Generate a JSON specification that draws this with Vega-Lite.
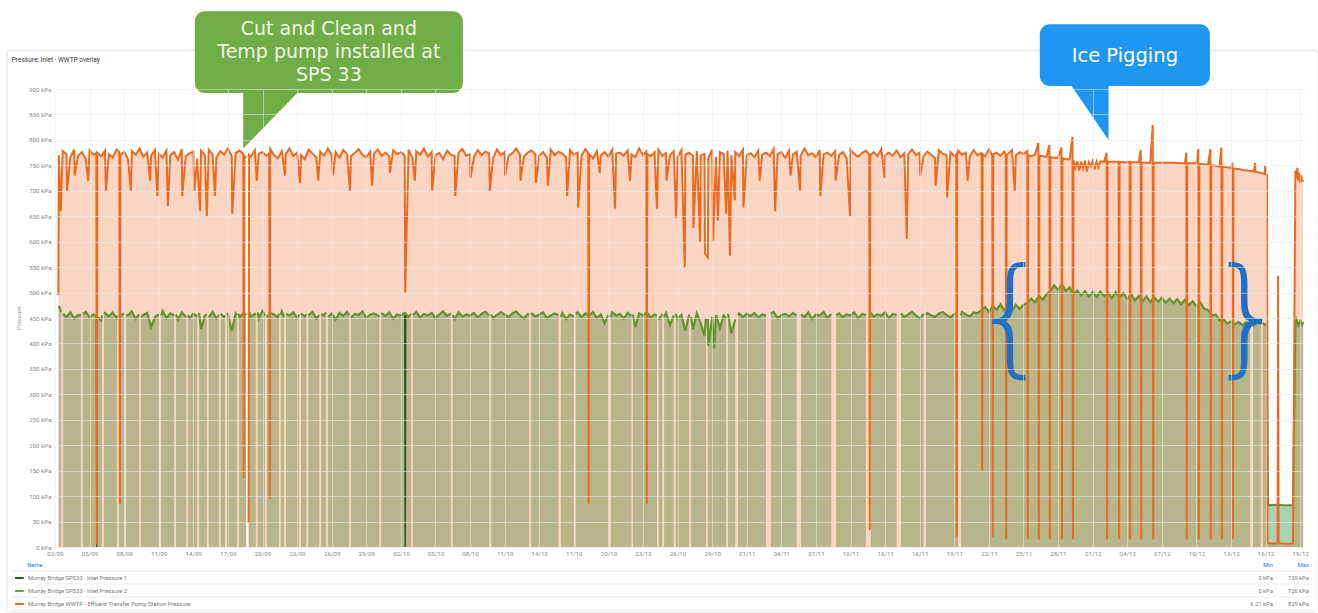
{
"$schema":"https://vega.github.io/schema/vega-lite/v6.json",
"width":1250,"height":458,
"autosize":{"type":"none"},
"padding":{"left":55,"top":89,"right":13,"bottom":66},
"background":"#ffffff",
"config":{"view":{"stroke":null},"font":"Roboto"},
"data":{"format":{"parse":{"t":"date:'%y%m%d%H'"}},"values":[
{"s":"o","t":"23090207","v":495},{"s":"o","t":"23090208","v":770},{"s":"o","t":"23090212","v":660},{"s":"o","t":"23090216","v":778},
{"s":"o","t":"23090300","v":772},{"s":"o","t":"23090301","v":700},{"s":"o","t":"23090308","v":766},{"s":"o","t":"23090316","v":781},{"s":"o","t":"23090317","v":730},
{"s":"o","t":"23090400","v":769},{"s":"o","t":"23090408","v":776},{"s":"o","t":"23090416","v":763},{"s":"o","t":"23090421","v":720},
{"s":"o","t":"23090500","v":780},{"s":"o","t":"23090508","v":771},{"s":"o","t":"23090514","v":774},{"s":"o","t":"23090515","v":5},{"s":"o","t":"23090516","v":775},
{"s":"o","t":"23090600","v":768},{"s":"o","t":"23090608","v":779},{"s":"o","t":"23090610","v":700},{"s":"o","t":"23090616","v":772},
{"s":"o","t":"23090700","v":765},{"s":"o","t":"23090708","v":781},{"s":"o","t":"23090714","v":776},{"s":"o","t":"23090715","v":85},{"s":"o","t":"23090716","v":770},
{"s":"o","t":"23090800","v":776},{"s":"o","t":"23090808","v":762},{"s":"o","t":"23090814","v":700},{"s":"o","t":"23090816","v":778},
{"s":"o","t":"23090900","v":771},{"s":"o","t":"23090908","v":783},{"s":"o","t":"23090916","v":767},
{"s":"o","t":"23091000","v":775},{"s":"o","t":"23091006","v":720},{"s":"o","t":"23091008","v":769},{"s":"o","t":"23091016","v":780},{"s":"o","t":"23091021","v":690},
{"s":"o","t":"23091100","v":773},{"s":"o","t":"23091108","v":765},{"s":"o","t":"23091116","v":779},{"s":"o","t":"23091119","v":670},
{"s":"o","t":"23091200","v":770},{"s":"o","t":"23091208","v":776},{"s":"o","t":"23091216","v":761},
{"s":"o","t":"23091300","v":782},{"s":"o","t":"23091301","v":690},{"s":"o","t":"23091308","v":768},{"s":"o","t":"23091316","v":774},
{"s":"o","t":"23091400","v":777},{"s":"o","t":"23091402","v":700},{"s":"o","t":"23091408","v":763},{"s":"o","t":"23091414","v":660},{"s":"o","t":"23091416","v":779},
{"s":"o","t":"23091500","v":770},{"s":"o","t":"23091504","v":650},{"s":"o","t":"23091508","v":781},{"s":"o","t":"23091516","v":772},{"s":"o","t":"23091521","v":690},
{"s":"o","t":"23091600","v":766},{"s":"o","t":"23091608","v":778},{"s":"o","t":"23091616","v":771},
{"s":"o","t":"23091700","v":783},{"s":"o","t":"23091708","v":768},{"s":"o","t":"23091709","v":655},{"s":"o","t":"23091716","v":774},
{"s":"o","t":"23091800","v":779},{"s":"o","t":"23091808","v":772},{"s":"o","t":"23091809","v":135},{"s":"o","t":"23091810","v":768},{"s":"o","t":"23091814","v":765},{"s":"o","t":"23091815","v":null},{"s":"o","t":"23091819","v":47},{"s":"o","t":"23091820","v":771},
{"s":"o","t":"23091900","v":767},{"s":"o","t":"23091908","v":780},{"s":"o","t":"23091912","v":720},{"s":"o","t":"23091916","v":773},
{"s":"o","t":"23092000","v":776},{"s":"o","t":"23092008","v":769},{"s":"o","t":"23092014","v":774},{"s":"o","t":"23092015","v":95},{"s":"o","t":"23092016","v":782},
{"s":"o","t":"23092100","v":770},{"s":"o","t":"23092108","v":764},{"s":"o","t":"23092116","v":778},{"s":"o","t":"23092123","v":730},
{"s":"o","t":"23092200","v":772},{"s":"o","t":"23092208","v":783},{"s":"o","t":"23092216","v":768},
{"s":"o","t":"23092300","v":775},{"s":"o","t":"23092306","v":715},{"s":"o","t":"23092308","v":770},{"s":"o","t":"23092316","v":762},
{"s":"o","t":"23092400","v":781},{"s":"o","t":"23092408","v":773},{"s":"o","t":"23092416","v":766},{"s":"o","t":"23092420","v":720},
{"s":"o","t":"23092500","v":777},{"s":"o","t":"23092508","v":769},{"s":"o","t":"23092516","v":783},
{"s":"o","t":"23092600","v":771},{"s":"o","t":"23092603","v":730},{"s":"o","t":"23092608","v":776},{"s":"o","t":"23092616","v":765},
{"s":"o","t":"23092700","v":780},{"s":"o","t":"23092708","v":772},{"s":"o","t":"23092714","v":700},{"s":"o","t":"23092716","v":768},
{"s":"o","t":"23092800","v":774},{"s":"o","t":"23092808","v":782},{"s":"o","t":"23092816","v":770},
{"s":"o","t":"23092900","v":766},{"s":"o","t":"23092908","v":777},{"s":"o","t":"23092912","v":710},{"s":"o","t":"23092916","v":773},
{"s":"o","t":"23093000","v":781},{"s":"o","t":"23093008","v":769},{"s":"o","t":"23093016","v":775},
{"s":"o","t":"23100100","v":768},{"s":"o","t":"23100101","v":735},{"s":"o","t":"23100108","v":780},{"s":"o","t":"23100116","v":772},
{"s":"o","t":"23100200","v":776},{"s":"o","t":"23100208","v":770},{"s":"o","t":"23100209","v":500},{"s":"o","t":"23100216","v":781},
{"s":"o","t":"23100300","v":765},{"s":"o","t":"23100305","v":720},{"s":"o","t":"23100308","v":778},{"s":"o","t":"23100316","v":771},
{"s":"o","t":"23100400","v":783},{"s":"o","t":"23100408","v":767},{"s":"o","t":"23100416","v":776},{"s":"o","t":"23100417","v":700},
{"s":"o","t":"23100500","v":770},{"s":"o","t":"23100508","v":774},{"s":"o","t":"23100516","v":762},
{"s":"o","t":"23100600","v":779},{"s":"o","t":"23100608","v":771},{"s":"o","t":"23100616","v":768},{"s":"o","t":"23100617","v":690},
{"s":"o","t":"23100700","v":775},{"s":"o","t":"23100708","v":782},{"s":"o","t":"23100716","v":769},
{"s":"o","t":"23100800","v":772},{"s":"o","t":"23100801","v":725},{"s":"o","t":"23100808","v":766},{"s":"o","t":"23100816","v":780},
{"s":"o","t":"23100900","v":770},{"s":"o","t":"23100908","v":777},{"s":"o","t":"23100916","v":773},{"s":"o","t":"23100917","v":700},
{"s":"o","t":"23101000","v":764},{"s":"o","t":"23101008","v":781},{"s":"o","t":"23101016","v":770},
{"s":"o","t":"23101100","v":776},{"s":"o","t":"23101101","v":730},{"s":"o","t":"23101108","v":768},{"s":"o","t":"23101116","v":774},
{"s":"o","t":"23101200","v":783},{"s":"o","t":"23101208","v":771},{"s":"o","t":"23101209","v":720},{"s":"o","t":"23101216","v":767},
{"s":"o","t":"23101300","v":775},{"s":"o","t":"23101308","v":779},{"s":"o","t":"23101316","v":772},{"s":"o","t":"23101317","v":715},
{"s":"o","t":"23101400","v":769},{"s":"o","t":"23101408","v":776},{"s":"o","t":"23101416","v":765},{"s":"o","t":"23101418","v":710},
{"s":"o","t":"23101500","v":781},{"s":"o","t":"23101508","v":770},{"s":"o","t":"23101516","v":777},
{"s":"o","t":"23101600","v":773},{"s":"o","t":"23101608","v":766},{"s":"o","t":"23101610","v":690},{"s":"o","t":"23101616","v":780},
{"s":"o","t":"23101700","v":771},{"s":"o","t":"23101708","v":775},{"s":"o","t":"23101709","v":667},{"s":"o","t":"23101716","v":769},
{"s":"o","t":"23101800","v":782},{"s":"o","t":"23101806","v":774},{"s":"o","t":"23101807","v":85},{"s":"o","t":"23101808","v":772},{"s":"o","t":"23101816","v":764},
{"s":"o","t":"23101900","v":778},{"s":"o","t":"23101906","v":735},{"s":"o","t":"23101908","v":770},{"s":"o","t":"23101916","v":776},
{"s":"o","t":"23102000","v":767},{"s":"o","t":"23102008","v":781},{"s":"o","t":"23102014","v":665},{"s":"o","t":"23102016","v":773},
{"s":"o","t":"23102100","v":775},{"s":"o","t":"23102108","v":769},{"s":"o","t":"23102116","v":779},{"s":"o","t":"23102121","v":720},
{"s":"o","t":"23102200","v":772},{"s":"o","t":"23102208","v":766},{"s":"o","t":"23102216","v":783},
{"s":"o","t":"23102300","v":770},{"s":"o","t":"23102307","v":777},{"s":"o","t":"23102308","v":85},{"s":"o","t":"23102309","v":772},{"s":"o","t":"23102316","v":768},
{"s":"o","t":"23102400","v":776},{"s":"o","t":"23102405","v":665},{"s":"o","t":"23102408","v":781},{"s":"o","t":"23102416","v":769},
{"s":"o","t":"23102500","v":774},{"s":"o","t":"23102501","v":720},{"s":"o","t":"23102508","v":770},{"s":"o","t":"23102516","v":778},{"s":"o","t":"23102521","v":647},
{"s":"o","t":"23102600","v":766},{"s":"o","t":"23102608","v":780},{"s":"o","t":"23102615","v":549},{"s":"o","t":"23102616","v":771},
{"s":"o","t":"23102700","v":775},{"s":"o","t":"23102708","v":769},{"s":"o","t":"23102709","v":627},{"s":"o","t":"23102716","v":778},{"s":"o","t":"23102723","v":600},
{"s":"o","t":"23102800","v":770},{"s":"o","t":"23102808","v":772},{"s":"o","t":"23102809","v":577},{"s":"o","t":"23102815","v":569},{"s":"o","t":"23102816","v":764},
{"s":"o","t":"23102900","v":781},{"s":"o","t":"23102902","v":602},{"s":"o","t":"23102908","v":767},{"s":"o","t":"23102912","v":641},{"s":"o","t":"23102916","v":776},
{"s":"o","t":"23103000","v":772},{"s":"o","t":"23103005","v":655},{"s":"o","t":"23103008","v":779},{"s":"o","t":"23103013","v":573},{"s":"o","t":"23103016","v":770},{"s":"o","t":"23103023","v":681},
{"s":"o","t":"23103100","v":776},{"s":"o","t":"23103108","v":768},{"s":"o","t":"23103116","v":781},{"s":"o","t":"23103117","v":667},
{"s":"o","t":"23110100","v":770},{"s":"o","t":"23110108","v":774},{"s":"o","t":"23110116","v":766},
{"s":"o","t":"23110200","v":779},{"s":"o","t":"23110203","v":720},{"s":"o","t":"23110208","v":771},{"s":"o","t":"23110216","v":775},
{"s":"o","t":"23110300","v":768},{"s":"o","t":"23110308","v":782},{"s":"o","t":"23110311","v":660},{"s":"o","t":"23110316","v":772},
{"s":"o","t":"23110400","v":776},{"s":"o","t":"23110408","v":765},{"s":"o","t":"23110416","v":779},{"s":"o","t":"23110419","v":730},
{"s":"o","t":"23110500","v":771},{"s":"o","t":"23110508","v":777},{"s":"o","t":"23110515","v":700},{"s":"o","t":"23110516","v":769},
{"s":"o","t":"23110600","v":783},{"s":"o","t":"23110608","v":770},{"s":"o","t":"23110616","v":774},
{"s":"o","t":"23110700","v":766},{"s":"o","t":"23110708","v":780},{"s":"o","t":"23110709","v":690},{"s":"o","t":"23110716","v":772},
{"s":"o","t":"23110800","v":775},{"s":"o","t":"23110808","v":769},{"s":"o","t":"23110816","v":778},{"s":"o","t":"23110817","v":720},
{"s":"o","t":"23110900","v":770},{"s":"o","t":"23110908","v":776},{"s":"o","t":"23110916","v":764},{"s":"o","t":"23110923","v":650},
{"s":"o","t":"23111000","v":781},{"s":"o","t":"23111008","v":772},{"s":"o","t":"23111016","v":767},
{"s":"o","t":"23111100","v":774},{"s":"o","t":"23111108","v":779},{"s":"o","t":"23111115","v":771},{"s":"o","t":"23111116","v":33},{"s":"o","t":"23111117","v":770},
{"s":"o","t":"23111200","v":776},{"s":"o","t":"23111208","v":768},{"s":"o","t":"23111216","v":782},{"s":"o","t":"23111223","v":725},
{"s":"o","t":"23111300","v":770},{"s":"o","t":"23111308","v":775},{"s":"o","t":"23111316","v":769},
{"s":"o","t":"23111400","v":779},{"s":"o","t":"23111408","v":766},{"s":"o","t":"23111416","v":774},{"s":"o","t":"23111421","v":605},
{"s":"o","t":"23111500","v":772},{"s":"o","t":"23111508","v":781},{"s":"o","t":"23111516","v":770},
{"s":"o","t":"23111600","v":775},{"s":"o","t":"23111601","v":730},{"s":"o","t":"23111608","v":768},{"s":"o","t":"23111616","v":777},
{"s":"o","t":"23111700","v":771},{"s":"o","t":"23111708","v":764},{"s":"o","t":"23111709","v":710},{"s":"o","t":"23111716","v":780},
{"s":"o","t":"23111800","v":773},{"s":"o","t":"23111808","v":770},{"s":"o","t":"23111809","v":687},{"s":"o","t":"23111816","v":776},
{"s":"o","t":"23111900","v":768},{"s":"o","t":"23111904","v":772},{"s":"o","t":"23111905","v":20},{"s":"o","t":"23111906","v":770},{"s":"o","t":"23111908","v":779},{"s":"o","t":"23111916","v":771},
{"s":"o","t":"23112000","v":775},{"s":"o","t":"23112004","v":720},{"s":"o","t":"23112008","v":766},{"s":"o","t":"23112016","v":780},
{"s":"o","t":"23112100","v":770},{"s":"o","t":"23112108","v":774},{"s":"o","t":"23112109","v":771},{"s":"o","t":"23112110","v":150},{"s":"o","t":"23112111","v":772},{"s":"o","t":"23112116","v":768},
{"s":"o","t":"23112200","v":781},{"s":"o","t":"23112207","v":770},{"s":"o","t":"23112208","v":20},{"s":"o","t":"23112209","v":772},{"s":"o","t":"23112216","v":775},
{"s":"o","t":"23112300","v":769},{"s":"o","t":"23112308","v":777},{"s":"o","t":"23112311","v":771},{"s":"o","t":"23112312","v":15},{"s":"o","t":"23112313","v":770},{"s":"o","t":"23112316","v":773},
{"s":"o","t":"23112400","v":780},{"s":"o","t":"23112406","v":700},{"s":"o","t":"23112408","v":770},{"s":"o","t":"23112416","v":776},
{"s":"o","t":"23112500","v":772},{"s":"o","t":"23112508","v":778},{"s":"o","t":"23112509","v":15},{"s":"o","t":"23112510","v":770},{"s":"o","t":"23112516","v":768},
{"s":"o","t":"23112600","v":771},{"s":"o","t":"23112607","v":794},{"s":"o","t":"23112608","v":15},{"s":"o","t":"23112609","v":769},{"s":"o","t":"23112616","v":768},
{"s":"o","t":"23112700","v":767},{"s":"o","t":"23112706","v":790},{"s":"o","t":"23112707","v":15},{"s":"o","t":"23112708","v":766},{"s":"o","t":"23112716","v":765},
{"s":"o","t":"23112800","v":765},{"s":"o","t":"23112807","v":785},{"s":"o","t":"23112808","v":15},{"s":"o","t":"23112809","v":764},{"s":"o","t":"23112816","v":762},
{"s":"o","t":"23112900","v":762},{"s":"o","t":"23112906","v":806},{"s":"o","t":"23112907","v":15},{"s":"o","t":"23112908","v":760},{"s":"o","t":"23112912","v":745},{"s":"o","t":"23112916","v":758},{"s":"o","t":"23112920","v":740},
{"s":"o","t":"23113000","v":757},{"s":"o","t":"23113004","v":744},{"s":"o","t":"23113008","v":759},{"s":"o","t":"23113012","v":738},{"s":"o","t":"23113016","v":756},{"s":"o","t":"23113020","v":748},
{"s":"o","t":"23120100","v":758},{"s":"o","t":"23120104","v":742},{"s":"o","t":"23120108","v":757},{"s":"o","t":"23120112","v":746},{"s":"o","t":"23120116","v":758},
{"s":"o","t":"23120200","v":757},{"s":"o","t":"23120205","v":775},{"s":"o","t":"23120206","v":15},{"s":"o","t":"23120207","v":757},{"s":"o","t":"23120216","v":757},
{"s":"o","t":"23120300","v":757},{"s":"o","t":"23120306","v":757},{"s":"o","t":"23120307","v":15},{"s":"o","t":"23120308","v":757},{"s":"o","t":"23120316","v":756},
{"s":"o","t":"23120400","v":756},{"s":"o","t":"23120405","v":757},{"s":"o","t":"23120406","v":15},{"s":"o","t":"23120407","v":756},{"s":"o","t":"23120416","v":756},
{"s":"o","t":"23120500","v":756},{"s":"o","t":"23120504","v":780},{"s":"o","t":"23120505","v":15},{"s":"o","t":"23120506","v":756},{"s":"o","t":"23120516","v":755},
{"s":"o","t":"23120600","v":755},{"s":"o","t":"23120605","v":829},{"s":"o","t":"23120606","v":15},{"s":"o","t":"23120607","v":755},{"s":"o","t":"23120616","v":755},
{"s":"o","t":"23120700","v":755},{"s":"o","t":"23120712","v":755},
{"s":"o","t":"23120800","v":755},{"s":"o","t":"23120812","v":754},
{"s":"o","t":"23120900","v":754},{"s":"o","t":"23120903","v":775},{"s":"o","t":"23120904","v":15},{"s":"o","t":"23120905","v":754},{"s":"o","t":"23120916","v":754},
{"s":"o","t":"23121000","v":754},{"s":"o","t":"23121004","v":782},{"s":"o","t":"23121005","v":15},{"s":"o","t":"23121006","v":753},{"s":"o","t":"23121016","v":752},
{"s":"o","t":"23121100","v":751},{"s":"o","t":"23121105","v":782},{"s":"o","t":"23121106","v":15},{"s":"o","t":"23121107","v":750},{"s":"o","t":"23121116","v":749},
{"s":"o","t":"23121200","v":748},{"s":"o","t":"23121204","v":785},{"s":"o","t":"23121205","v":15},{"s":"o","t":"23121206","v":747},{"s":"o","t":"23121216","v":746},
{"s":"o","t":"23121300","v":745},{"s":"o","t":"23121303","v":755},{"s":"o","t":"23121304","v":15},{"s":"o","t":"23121305","v":744},{"s":"o","t":"23121316","v":743},
{"s":"o","t":"23121400","v":741},{"s":"o","t":"23121412","v":740},
{"s":"o","t":"23121500","v":738},{"s":"o","t":"23121502","v":755},{"s":"o","t":"23121503","v":737},{"s":"o","t":"23121516","v":735},{"s":"o","t":"23121522","v":733},{"s":"o","t":"23121523","v":749},
{"s":"o","t":"23121600","v":733},{"s":"o","t":"23121603","v":731},{"s":"o","t":"23121604","v":8},{"s":"o","t":"23121612","v":7},
{"s":"o","t":"23121700","v":7},{"s":"o","t":"23121701","v":8},{"s":"o","t":"23121702","v":533},{"s":"o","t":"23121703","v":8},{"s":"o","t":"23121712","v":7},
{"s":"o","t":"23121800","v":6.21},{"s":"o","t":"23121809","v":7},{"s":"o","t":"23121814","v":740},{"s":"o","t":"23121816","v":725},{"s":"o","t":"23121818","v":745},{"s":"o","t":"23121820","v":720},{"s":"o","t":"23121822","v":735},
{"s":"o","t":"23121900","v":715},{"s":"o","t":"23121902","v":730},{"s":"o","t":"23121904","v":722},{"s":"o","t":"23121906","v":718},

{"s":"g","t":"23090208","v":474},{"s":"g","t":"23090213","v":462},{"s":"g","t":"23090215","v":null},{"s":"g","t":"23090217","v":458},
{"s":"g","t":"23090300","v":452},{"s":"g","t":"23090308","v":461},{"s":"g","t":"23090316","v":449},
{"s":"g","t":"23090400","v":456},{"s":"g","t":"23090406","v":455},{"s":"g","t":"23090408","v":null},{"s":"g","t":"23090410","v":458},{"s":"g","t":"23090416","v":462},
{"s":"g","t":"23090500","v":451},{"s":"g","t":"23090508","v":457},{"s":"g","t":"23090513","v":455},{"s":"g","t":"23090515","v":null},{"s":"g","t":"23090517","v":452},
{"s":"g","t":"23090600","v":446},{"s":"g","t":"23090602","v":455},{"s":"g","t":"23090604","v":null},{"s":"g","t":"23090606","v":458},{"s":"g","t":"23090608","v":460},{"s":"g","t":"23090616","v":453},
{"s":"g","t":"23090700","v":461},{"s":"g","t":"23090708","v":450},{"s":"g","t":"23090709","v":455},{"s":"g","t":"23090711","v":null},{"s":"g","t":"23090713","v":457},{"s":"g","t":"23090716","v":455},
{"s":"g","t":"23090800","v":459},{"s":"g","t":"23090802","v":null},{"s":"g","t":"23090804","v":457},{"s":"g","t":"23090808","v":455},{"s":"g","t":"23090816","v":463},
{"s":"g","t":"23090900","v":448},{"s":"g","t":"23090907","v":457},{"s":"g","t":"23090909","v":null},{"s":"g","t":"23090911","v":452},{"s":"g","t":"23090916","v":456},
{"s":"g","t":"23091000","v":460},{"s":"g","t":"23091008","v":432},{"s":"g","t":"23091016","v":452},
{"s":"g","t":"23091100","v":457},{"s":"g","t":"23091103","v":null},{"s":"g","t":"23091105","v":455},{"s":"g","t":"23091108","v":464},{"s":"g","t":"23091116","v":450},
{"s":"g","t":"23091200","v":459},{"s":"g","t":"23091208","v":455},{"s":"g","t":"23091210","v":null},{"s":"g","t":"23091212","v":457},{"s":"g","t":"23091216","v":447},
{"s":"g","t":"23091300","v":461},{"s":"g","t":"23091309","v":452},{"s":"g","t":"23091311","v":null},{"s":"g","t":"23091313","v":456},{"s":"g","t":"23091316","v":450},
{"s":"g","t":"23091400","v":458},{"s":"g","t":"23091408","v":454},{"s":"g","t":"23091410","v":null},{"s":"g","t":"23091412","v":460},{"s":"g","t":"23091416","v":428},
{"s":"g","t":"23091500","v":455},{"s":"g","t":"23091504","v":457},{"s":"g","t":"23091506","v":null},{"s":"g","t":"23091508","v":451},{"s":"g","t":"23091516","v":462},
{"s":"g","t":"23091600","v":449},{"s":"g","t":"23091605","v":456},{"s":"g","t":"23091607","v":null},{"s":"g","t":"23091609","v":458},{"s":"g","t":"23091616","v":452},{"s":"g","t":"23091618","v":455},{"s":"g","t":"23091620","v":null},{"s":"g","t":"23091622","v":460},
{"s":"g","t":"23091700","v":457},{"s":"g","t":"23091708","v":424},{"s":"g","t":"23091716","v":459},{"s":"g","t":"23091719","v":455},{"s":"g","t":"23091721","v":null},{"s":"g","t":"23091723","v":458},
{"s":"g","t":"23091800","v":451},{"s":"g","t":"23091808","v":460},{"s":"g","t":"23091814","v":456},{"s":"g","t":"23091815","v":null},{"s":"g","t":"23091819","v":455},{"s":"g","t":"23091820","v":462},
{"s":"g","t":"23091900","v":453},{"s":"g","t":"23091908","v":458},{"s":"g","t":"23091910","v":456},{"s":"g","t":"23091912","v":null},{"s":"g","t":"23091914","v":461},{"s":"g","t":"23091916","v":449},
{"s":"g","t":"23092000","v":464},{"s":"g","t":"23092005","v":455},{"s":"g","t":"23092007","v":null},{"s":"g","t":"23092009","v":452},{"s":"g","t":"23092016","v":460},
{"s":"g","t":"23092100","v":457},{"s":"g","t":"23092108","v":451},{"s":"g","t":"23092110","v":459},{"s":"g","t":"23092112","v":null},{"s":"g","t":"23092114","v":456},{"s":"g","t":"23092116","v":463},{"s":"g","t":"23092121","v":452},{"s":"g","t":"23092123","v":null},
{"s":"g","t":"23092201","v":458},{"s":"g","t":"23092208","v":455},{"s":"g","t":"23092216","v":461},
{"s":"g","t":"23092300","v":450},{"s":"g","t":"23092304","v":457},{"s":"g","t":"23092306","v":null},{"s":"g","t":"23092308","v":459},{"s":"g","t":"23092316","v":453},{"s":"g","t":"23092319","v":457},{"s":"g","t":"23092321","v":null},{"s":"g","t":"23092323","v":455},
{"s":"g","t":"23092408","v":462},{"s":"g","t":"23092416","v":449},{"s":"g","t":"23092422","v":456},
{"s":"g","t":"23092500","v":null},{"s":"g","t":"23092502","v":458},{"s":"g","t":"23092508","v":455},{"s":"g","t":"23092512","v":461},{"s":"g","t":"23092514","v":null},{"s":"g","t":"23092516","v":452},
{"s":"g","t":"23092600","v":459},{"s":"g","t":"23092608","v":447},{"s":"g","t":"23092616","v":460},
{"s":"g","t":"23092700","v":454},{"s":"g","t":"23092708","v":462},{"s":"g","t":"23092712","v":455},{"s":"g","t":"23092714","v":null},{"s":"g","t":"23092716","v":451},
{"s":"g","t":"23092800","v":458},{"s":"g","t":"23092808","v":456},{"s":"g","t":"23092816","v":463},
{"s":"g","t":"23092900","v":450},{"s":"g","t":"23092908","v":457},{"s":"g","t":"23092916","v":459},
{"s":"g","t":"23093000","v":455},{"s":"g","t":"23093003","v":452},{"s":"g","t":"23093005","v":null},{"s":"g","t":"23093007","v":460},{"s":"g","t":"23093016","v":454},
{"s":"g","t":"23100100","v":461},{"s":"g","t":"23100108","v":449},{"s":"g","t":"23100116","v":457},
{"s":"g","t":"23100200","v":455},{"s":"g","t":"23100208","v":460},{"s":"g","t":"23100216","v":452},{"s":"g","t":"23100221","v":458},{"s":"g","t":"23100223","v":null},
{"s":"g","t":"23100301","v":456},{"s":"g","t":"23100308","v":462},{"s":"g","t":"23100316","v":451},
{"s":"g","t":"23100400","v":458},{"s":"g","t":"23100408","v":455},{"s":"g","t":"23100416","v":460},
{"s":"g","t":"23100500","v":450},{"s":"g","t":"23100508","v":457},{"s":"g","t":"23100516","v":463},
{"s":"g","t":"23100600","v":454},{"s":"g","t":"23100608","v":459},{"s":"g","t":"23100610","v":null},{"s":"g","t":"23100612","v":456},{"s":"g","t":"23100616","v":448},
{"s":"g","t":"23100700","v":461},{"s":"g","t":"23100708","v":453},{"s":"g","t":"23100716","v":457},
{"s":"g","t":"23100800","v":455},{"s":"g","t":"23100808","v":460},{"s":"g","t":"23100816","v":451},
{"s":"g","t":"23100900","v":458},{"s":"g","t":"23100908","v":462},{"s":"g","t":"23100916","v":455},{"s":"g","t":"23100918","v":null},{"s":"g","t":"23100920","v":457},
{"s":"g","t":"23101000","v":450},{"s":"g","t":"23101008","v":456},{"s":"g","t":"23101016","v":461},
{"s":"g","t":"23101100","v":457},{"s":"g","t":"23101108","v":452},{"s":"g","t":"23101116","v":459},
{"s":"g","t":"23101200","v":463},{"s":"g","t":"23101208","v":455},{"s":"g","t":"23101216","v":449},
{"s":"g","t":"23101300","v":458},{"s":"g","t":"23101303","v":456},{"s":"g","t":"23101305","v":null},{"s":"g","t":"23101307","v":460},{"s":"g","t":"23101316","v":453},
{"s":"g","t":"23101400","v":457},{"s":"g","t":"23101408","v":461},{"s":"g","t":"23101416","v":450},
{"s":"g","t":"23101500","v":455},{"s":"g","t":"23101508","v":459},{"s":"g","t":"23101516","v":456},{"s":"g","t":"23101519","v":null},{"s":"g","t":"23101521","v":452},
{"s":"g","t":"23101600","v":460},{"s":"g","t":"23101608","v":448},{"s":"g","t":"23101616","v":457},
{"s":"g","t":"23101700","v":453},{"s":"g","t":"23101702","v":null},{"s":"g","t":"23101704","v":458},{"s":"g","t":"23101708","v":461},{"s":"g","t":"23101716","v":452},
{"s":"g","t":"23101800","v":459},{"s":"g","t":"23101808","v":455},{"s":"g","t":"23101816","v":462},
{"s":"g","t":"23101900","v":450},{"s":"g","t":"23101908","v":457},{"s":"g","t":"23101916","v":440},
{"s":"g","t":"23102000","v":456},{"s":"g","t":"23102003","v":null},{"s":"g","t":"23102005","v":452},{"s":"g","t":"23102008","v":461},{"s":"g","t":"23102016","v":455},
{"s":"g","t":"23102100","v":458},{"s":"g","t":"23102108","v":449},{"s":"g","t":"23102116","v":460},
{"s":"g","t":"23102200","v":454},{"s":"g","t":"23102201","v":null},{"s":"g","t":"23102203","v":457},{"s":"g","t":"23102208","v":432},{"s":"g","t":"23102216","v":459},
{"s":"g","t":"23102300","v":455},{"s":"g","t":"23102308","v":461},{"s":"g","t":"23102316","v":451},
{"s":"g","t":"23102400","v":457},{"s":"g","t":"23102405","v":455},{"s":"g","t":"23102407","v":null},{"s":"g","t":"23102409","v":446},{"s":"g","t":"23102416","v":458},{"s":"g","t":"23102418","v":null},{"s":"g","t":"23102420","v":452},
{"s":"g","t":"23102500","v":460},{"s":"g","t":"23102508","v":436},{"s":"g","t":"23102516","v":455},{"s":"g","t":"23102518","v":null},{"s":"g","t":"23102520","v":458},
{"s":"g","t":"23102600","v":449},{"s":"g","t":"23102608","v":456},{"s":"g","t":"23102616","v":425},
{"s":"g","t":"23102700","v":457},{"s":"g","t":"23102702","v":null},{"s":"g","t":"23102704","v":452},{"s":"g","t":"23102708","v":428},{"s":"g","t":"23102716","v":459},
{"s":"g","t":"23102800","v":440},{"s":"g","t":"23102808","v":415},{"s":"g","t":"23102811","v":450},{"s":"g","t":"23102813","v":null},{"s":"g","t":"23102815","v":448},{"s":"g","t":"23102816","v":395},
{"s":"g","t":"23102900","v":452},{"s":"g","t":"23102904","v":390},{"s":"g","t":"23102908","v":456},{"s":"g","t":"23102916","v":430},
{"s":"g","t":"23103000","v":455},{"s":"g","t":"23103005","v":450},{"s":"g","t":"23103007","v":null},{"s":"g","t":"23103009","v":458},{"s":"g","t":"23103016","v":420},
{"s":"g","t":"23103100","v":447},{"s":"g","t":"23103104","v":null},{"s":"g","t":"23103106","v":455},{"s":"g","t":"23103108","v":459},{"s":"g","t":"23103116","v":452},
{"s":"g","t":"23110100","v":458},{"s":"g","t":"23110108","v":454},{"s":"g","t":"23110116","v":460},
{"s":"g","t":"23110200","v":451},{"s":"g","t":"23110208","v":457},{"s":"g","t":"23110216","v":455},
{"s":"g","t":"23110300","v":null},{"s":"g","t":"23110302","v":459},{"s":"g","t":"23110308","v":462},{"s":"g","t":"23110316","v":450},
{"s":"g","t":"23110400","v":456},{"s":"g","t":"23110408","v":458},{"s":"g","t":"23110416","v":453},
{"s":"g","t":"23110500","v":460},{"s":"g","t":"23110508","v":455},{"s":"g","t":"23110515","v":null},{"s":"g","t":"23110517","v":457},
{"s":"g","t":"23110600","v":452},{"s":"g","t":"23110608","v":461},{"s":"g","t":"23110616","v":448},
{"s":"g","t":"23110700","v":457},{"s":"g","t":"23110708","v":455},{"s":"g","t":"23110716","v":462},
{"s":"g","t":"23110800","v":450},{"s":"g","t":"23110808","v":458},{"s":"g","t":"23110816","v":null},{"s":"g","t":"23110818","v":456},
{"s":"g","t":"23110900","v":459},{"s":"g","t":"23110908","v":452},{"s":"g","t":"23110916","v":457},
{"s":"g","t":"23111000","v":455},{"s":"g","t":"23111008","v":461},{"s":"g","t":"23111016","v":449},
{"s":"g","t":"23111100","v":458},{"s":"g","t":"23111108","v":456},{"s":"g","t":"23111116","v":null},{"s":"g","t":"23111118","v":460},
{"s":"g","t":"23111200","v":453},{"s":"g","t":"23111208","v":457},{"s":"g","t":"23111216","v":455},
{"s":"g","t":"23111300","v":461},{"s":"g","t":"23111308","v":450},{"s":"g","t":"23111316","v":458},
{"s":"g","t":"23111400","v":456},{"s":"g","t":"23111407","v":null},{"s":"g","t":"23111409","v":459},{"s":"g","t":"23111416","v":452},
{"s":"g","t":"23111500","v":457},{"s":"g","t":"23111508","v":462},{"s":"g","t":"23111516","v":455},
{"s":"g","t":"23111600","v":449},{"s":"g","t":"23111608","v":458},{"s":"g","t":"23111611","v":null},{"s":"g","t":"23111613","v":456},{"s":"g","t":"23111616","v":460},
{"s":"g","t":"23111700","v":455},{"s":"g","t":"23111708","v":452},{"s":"g","t":"23111716","v":459},
{"s":"g","t":"23111800","v":462},{"s":"g","t":"23111808","v":456},{"s":"g","t":"23111816","v":451},
{"s":"g","t":"23111900","v":458},{"s":"g","t":"23111908","v":460},{"s":"g","t":"23111912","v":null},{"s":"g","t":"23111914","v":455},{"s":"g","t":"23111916","v":462},
{"s":"g","t":"23112000","v":457},{"s":"g","t":"23112008","v":453},{"s":"g","t":"23112016","v":461},
{"s":"g","t":"23112100","v":459},{"s":"g","t":"23112108","v":465},{"s":"g","t":"23112116","v":472},
{"s":"g","t":"23112200","v":462},{"s":"g","t":"23112208","v":474},{"s":"g","t":"23112216","v":466},
{"s":"g","t":"23112300","v":477},{"s":"g","t":"23112308","v":465},{"s":"g","t":"23112316","v":475},
{"s":"g","t":"23112400","v":464},{"s":"g","t":"23112408","v":476},{"s":"g","t":"23112416","v":468},
{"s":"g","t":"23112500","v":476},{"s":"g","t":"23112508","v":480},{"s":"g","t":"23112516","v":488},
{"s":"g","t":"23112600","v":481},{"s":"g","t":"23112608","v":494},{"s":"g","t":"23112616","v":486},
{"s":"g","t":"23112700","v":497},{"s":"g","t":"23112708","v":503},{"s":"g","t":"23112716","v":514},
{"s":"g","t":"23112800","v":505},{"s":"g","t":"23112808","v":517},{"s":"g","t":"23112816","v":503},
{"s":"g","t":"23112900","v":510},{"s":"g","t":"23112908","v":496},{"s":"g","t":"23112916","v":504},
{"s":"g","t":"23113000","v":494},{"s":"g","t":"23113008","v":503},{"s":"g","t":"23113016","v":492},
{"s":"g","t":"23120100","v":501},{"s":"g","t":"23120108","v":491},{"s":"g","t":"23120116","v":502},
{"s":"g","t":"23120200","v":493},{"s":"g","t":"23120208","v":500},{"s":"g","t":"23120216","v":489},
{"s":"g","t":"23120300","v":501},{"s":"g","t":"23120308","v":490},{"s":"g","t":"23120316","v":499},
{"s":"g","t":"23120400","v":487},{"s":"g","t":"23120408","v":497},{"s":"g","t":"23120416","v":484},
{"s":"g","t":"23120500","v":493},{"s":"g","t":"23120508","v":483},{"s":"g","t":"23120516","v":492},
{"s":"g","t":"23120600","v":481},{"s":"g","t":"23120608","v":491},{"s":"g","t":"23120616","v":482},
{"s":"g","t":"23120700","v":490},{"s":"g","t":"23120708","v":480},{"s":"g","t":"23120716","v":488},
{"s":"g","t":"23120800","v":479},{"s":"g","t":"23120808","v":487},{"s":"g","t":"23120816","v":477},
{"s":"g","t":"23120900","v":486},{"s":"g","t":"23120908","v":475},{"s":"g","t":"23120916","v":483},
{"s":"g","t":"23121000","v":473},{"s":"g","t":"23121008","v":481},{"s":"g","t":"23121016","v":468},
{"s":"g","t":"23121100","v":466},{"s":"g","t":"23121108","v":455},{"s":"g","t":"23121116","v":457},
{"s":"g","t":"23121200","v":446},{"s":"g","t":"23121208","v":447},{"s":"g","t":"23121216","v":439},
{"s":"g","t":"23121300","v":443},{"s":"g","t":"23121308","v":438},{"s":"g","t":"23121316","v":442},
{"s":"g","t":"23121400","v":436},{"s":"g","t":"23121408","v":442},{"s":"g","t":"23121416","v":437},{"s":"g","t":"23121418","v":null},{"s":"g","t":"23121422","v":442},
{"s":"g","t":"23121500","v":435},{"s":"g","t":"23121508","v":443},{"s":"g","t":"23121514","v":437},{"s":"g","t":"23121516","v":null},{"s":"g","t":"23121518","v":440},
{"s":"g","t":"23121600","v":436},{"s":"g","t":"23121603","v":441},{"s":"g","t":"23121604","v":82},
{"s":"g","t":"23121700","v":83},{"s":"g","t":"23121712","v":82},
{"s":"g","t":"23121800","v":82},{"s":"g","t":"23121809","v":82},{"s":"g","t":"23121814","v":441},{"s":"g","t":"23121816","v":447},{"s":"g","t":"23121820","v":436},
{"s":"g","t":"23121900","v":444},{"s":"g","t":"23121904","v":437},{"s":"g","t":"23121906","v":442},

{"s":"d","t":"23090514","v":455},{"s":"d","t":"23090515","v":0},{"s":"d","t":"23090516","v":455},{"s":"d","t":"23090517","v":null},
{"s":"d","t":"23100208","v":456},{"s":"d","t":"23100209","v":0},{"s":"d","t":"23100210","v":455},{"s":"d","t":"23100211","v":null},
{"s":"d","t":"23121603","v":438},{"s":"d","t":"23121604","v":165},{"s":"d","t":"23121605","v":82}
]},
"encoding":{
"x":{"field":"t","type":"temporal","scale":{"domain":[{"year":2023,"month":9,"date":2},{"year":2023,"month":12,"date":19,"hours":10}]},
"axis":{"title":null,"format":"%d/%m","labelFontSize":6.2,"labelColor":"#8a8a8a","labelPadding":3,"ticks":false,"domain":false,"grid":true,"gridColor":"#e9e9e9","gridOpacity":0.55,"labelOverlap":false,"labelFlush":false,"zindex":1,
"values":[{"year":2023,"month":9,"date":2},{"year":2023,"month":9,"date":5},{"year":2023,"month":9,"date":8},{"year":2023,"month":9,"date":11},{"year":2023,"month":9,"date":14},{"year":2023,"month":9,"date":17},{"year":2023,"month":9,"date":20},{"year":2023,"month":9,"date":23},{"year":2023,"month":9,"date":26},{"year":2023,"month":9,"date":29},{"year":2023,"month":10,"date":2},{"year":2023,"month":10,"date":5},{"year":2023,"month":10,"date":8},{"year":2023,"month":10,"date":11},{"year":2023,"month":10,"date":14},{"year":2023,"month":10,"date":17},{"year":2023,"month":10,"date":20},{"year":2023,"month":10,"date":23},{"year":2023,"month":10,"date":26},{"year":2023,"month":10,"date":29},{"year":2023,"month":11,"date":1},{"year":2023,"month":11,"date":4},{"year":2023,"month":11,"date":7},{"year":2023,"month":11,"date":10},{"year":2023,"month":11,"date":13},{"year":2023,"month":11,"date":16},{"year":2023,"month":11,"date":19},{"year":2023,"month":11,"date":22},{"year":2023,"month":11,"date":25},{"year":2023,"month":11,"date":28},{"year":2023,"month":12,"date":1},{"year":2023,"month":12,"date":4},{"year":2023,"month":12,"date":7},{"year":2023,"month":12,"date":10},{"year":2023,"month":12,"date":13},{"year":2023,"month":12,"date":16},{"year":2023,"month":12,"date":19}]}},
"y":{"field":"v","type":"quantitative","stack":null,"scale":{"domain":[0,900],"nice":false,"zero":false},
"axis":{"title":"Pressure","titleFontSize":6,"titleFontWeight":"normal","titleColor":"#9a9a9a","titlePadding":7,"values":[0,50,100,150,200,250,300,350,400,450,500,550,600,650,700,750,800,850,900],"labelExpr":"datum.value + ' kPa'","labelFontSize":6.2,"labelColor":"#8a8a8a","labelPadding":4,"ticks":false,"domain":false,"grid":true,"gridColor":"#e9e9e9","gridOpacity":0.55,"zindex":1}}
},
"layer":[
{"data":{"values":[{"a":"23082820","b":"23122013","y":976,"y2":-128}],"format":{"parse":{"a":"date:'%y%m%d%H'","b":"date:'%y%m%d%H'"}}},
 "mark":{"type":"rect","fill":"#ffffff","stroke":"#e3e3e3","strokeWidth":1,"cornerRadius":3},
 "encoding":{"x":{"field":"a","type":"temporal"},"x2":{"field":"b"},"y":{"field":"y","type":"quantitative"},"y2":{"field":"y2"}}},
{"data":{"values":[{"a":"23082906","y":956.8,"txt":"Pressure: Inlet - WWTP overlay"}],"format":{"parse":{"a":"date:'%y%m%d%H'"}}},
 "mark":{"type":"text","align":"left","baseline":"middle","fontSize":6.5,"color":"#333333","font":"Roboto"},
 "encoding":{"text":{"field":"txt"},"x":{"field":"a","type":"temporal"},"y":{"field":"y","type":"quantitative"}}},
{"transform":[{"filter":"datum.s=='g'"}],"mark":{"type":"area","color":"#5fae74","opacity":0.55,"invalid":"break-paths-show-domains"}},
{"transform":[{"filter":"datum.s=='o'"}],"mark":{"type":"area","color":"#e85a10","opacity":0.25,"invalid":"break-paths-show-domains"}},
{"transform":[{"filter":"datum.s=='g'"}],"mark":{"type":"line","color":"#64942f","strokeWidth":2.2,"invalid":"break-paths-show-domains"}},
{"transform":[{"filter":"datum.s=='d'"}],"mark":{"type":"line","color":"#2d5a1c","strokeWidth":1.5,"invalid":"break-paths-show-domains"}},
{"transform":[{"filter":"datum.s=='o'"}],"mark":{"type":"line","color":"#ec6a1e","strokeWidth":2,"invalid":"break-paths-show-domains"}},
{"data":{"values":[{"a":"23091403","b":"23100709","y":1053,"y2":892}],"format":{"parse":{"a":"date:'%y%m%d%H'","b":"date:'%y%m%d%H'"}}},
 "mark":{"type":"rect","color":"#70ad47","opacity":1,"cornerRadius":10},
 "encoding":{"x":{"field":"a","type":"temporal"},"x2":{"field":"b"},"y":{"field":"y","type":"quantitative"},"y2":{"field":"y2"}}},
{"data":{"values":[{"a":"23092019","y":839}],"format":{"parse":{"a":"date:'%y%m%d%H'"}}},
 "mark":{"type":"point","shape":"M -1 -1.05 L 1 -1.05 L -1 1 Z","filled":true,"color":"#70ad47","opacity":1,"size":3249,"strokeWidth":0},
 "encoding":{"x":{"field":"a","type":"temporal"},"y":{"field":"y","type":"quantitative"}}},
{"data":{"values":[{"a":"23092518","y":1017.8,"txt":"Cut and Clean and\nTemp pump installed at\nSPS 33"}],"format":{"parse":{"a":"date:'%y%m%d%H'"}}},
 "mark":{"type":"text","font":"DejaVu Sans","fontSize":19,"color":"#eef6e4","lineBreak":"\n","lineHeight":23,"baseline":"middle","align":"center"},
 "encoding":{"text":{"field":"txt"},"x":{"field":"a","type":"temporal"},"y":{"field":"y","type":"quantitative"}}},
{"data":{"values":[{"a":"23112610","b":"23121104","y":1027,"y2":906}],"format":{"parse":{"a":"date:'%y%m%d%H'","b":"date:'%y%m%d%H'"}}},
 "mark":{"type":"rect","color":"#1f96f2","opacity":1,"cornerRadius":10},
 "encoding":{"x":{"field":"a","type":"temporal"},"x2":{"field":"b"},"y":{"field":"y","type":"quantitative"},"y2":{"field":"y2"}}},
{"data":{"values":[{"a":"23113017","y":853.6}],"format":{"parse":{"a":"date:'%y%m%d%H'"}}},
 "mark":{"type":"point","shape":"M -0.7 -1.05 L 0.7 -1.05 L 0.7 1 Z","filled":true,"color":"#1f96f2","opacity":1,"size":3025,"strokeWidth":0},
 "encoding":{"x":{"field":"a","type":"temporal"},"y":{"field":"y","type":"quantitative"}}},
{"data":{"values":[{"a":"23120319","y":965,"txt":"Ice Pigging"}],"format":{"parse":{"a":"date:'%y%m%d%H'"}}},
 "mark":{"type":"text","font":"DejaVu Sans","fontSize":19.5,"color":"#ffffff","baseline":"middle","align":"center"},
 "encoding":{"text":{"field":"txt"},"x":{"field":"a","type":"temporal"},"y":{"field":"y","type":"quantitative"}}},
{"data":{"values":[{"a":"23112322","y":443,"txt":"{"},{"a":"23121411","y":443,"txt":"}"}],"format":{"parse":{"a":"date:'%y%m%d%H'"}}},
 "mark":{"type":"text","font":"DejaVu Sans","fontWeight":200,"fontSize":128,"color":"#1f70c8","baseline":"middle","align":"center"},
 "encoding":{"text":{"field":"txt"},"x":{"field":"a","type":"temporal"},"y":{"field":"y","type":"quantitative"}}},
{"data":{"values":[{"a":"23082906","b":"23122002","y":-47.2},{"a":"23082906","b":"23122002","y":-72.7},{"a":"23082906","b":"23122002","y":-98.2},{"a":"23082906","b":"23122002","y":-123.8}],"format":{"parse":{"a":"date:'%y%m%d%H'","b":"date:'%y%m%d%H'"}}},
 "mark":{"type":"rule","color":"#ececec","strokeWidth":1},
 "encoding":{"x":{"field":"a","type":"temporal"},"x2":{"field":"b"},"y":{"field":"y","type":"quantitative"}}},
{"data":{"values":[{"a":"23083014","y":-35.4,"txt":"Name"}],"format":{"parse":{"a":"date:'%y%m%d%H'"}}},
 "mark":{"type":"text","align":"left","baseline":"middle","fontSize":5.8,"color":"#3d6fd6"},
 "encoding":{"text":{"field":"txt"},"x":{"field":"a","type":"temporal"},"y":{"field":"y","type":"quantitative"}}},
{"data":{"values":[{"a":"23121615","y":-35.4,"txt":"Min"},{"a":"23121918","y":-35.4,"txt":"Max"}],"format":{"parse":{"a":"date:'%y%m%d%H'"}}},
 "mark":{"type":"text","align":"right","baseline":"middle","fontSize":5.8,"color":"#3d6fd6"},
 "encoding":{"text":{"field":"txt"},"x":{"field":"a","type":"temporal"},"y":{"field":"y","type":"quantitative"}}},
{"data":{"values":[{"a":"23082913","b":"23083007","y":-60.9,"n":"Murray Bridge SPS33 - Inlet Pressure 1"},{"a":"23082913","b":"23083007","y":-86.4,"n":"Murray Bridge SPS33 - Inlet Pressure 2"},{"a":"23082913","b":"23083007","y":-112,"n":"Murray Bridge WWTP - Effluent Transfer Pump Station Pressure"}],"format":{"parse":{"a":"date:'%y%m%d%H'","b":"date:'%y%m%d%H'"}}},
 "mark":{"type":"rule","strokeWidth":2},
 "encoding":{"x":{"field":"a","type":"temporal"},"x2":{"field":"b"},"y":{"field":"y","type":"quantitative"},
  "color":{"field":"n","type":"nominal","legend":null,"scale":{"domain":["Murray Bridge SPS33 - Inlet Pressure 1","Murray Bridge SPS33 - Inlet Pressure 2","Murray Bridge WWTP - Effluent Transfer Pump Station Pressure"],"range":["#2d5a1c","#6b9a37","#ec6a1e"]}}}},
{"data":{"values":[{"a":"23083016","y":-60.9,"txt":"Murray Bridge SPS33 - Inlet Pressure 1"},{"a":"23083016","y":-86.4,"txt":"Murray Bridge SPS33 - Inlet Pressure 2"},{"a":"23083016","y":-112,"txt":"Murray Bridge WWTP - Effluent Transfer Pump Station Pressure"}],"format":{"parse":{"a":"date:'%y%m%d%H'"}}},
 "mark":{"type":"text","align":"left","baseline":"middle","fontSize":5.8,"color":"#7a7a7a"},
 "encoding":{"text":{"field":"txt"},"x":{"field":"a","type":"temporal"},"y":{"field":"y","type":"quantitative"}}},
{"data":{"values":[{"a":"23121615","y":-60.9,"txt":"0 kPa"},{"a":"23121918","y":-60.9,"txt":"739 kPa"},{"a":"23121615","y":-86.4,"txt":"0 kPa"},{"a":"23121918","y":-86.4,"txt":"726 kPa"},{"a":"23121615","y":-112,"txt":"6.21 kPa"},{"a":"23121918","y":-112,"txt":"829 kPa"}],"format":{"parse":{"a":"date:'%y%m%d%H'"}}},
 "mark":{"type":"text","align":"right","baseline":"middle","fontSize":5.8,"color":"#7a7a7a"},
 "encoding":{"text":{"field":"txt"},"x":{"field":"a","type":"temporal"},"y":{"field":"y","type":"quantitative"}}}
]
}
